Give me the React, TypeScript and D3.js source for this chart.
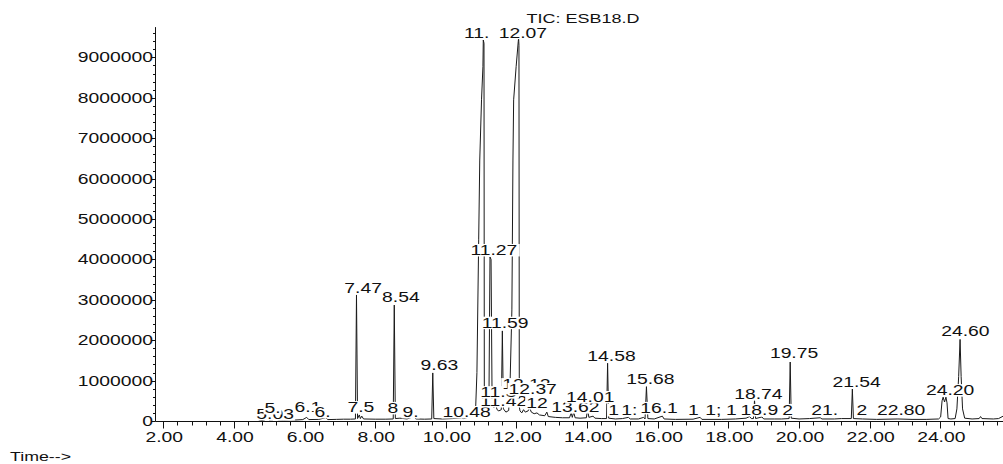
import React from "react";
import * as d3 from "d3";

// Total ion chromatogram trace: [retention time (min), abundance]
const tracePoints: [number, number][] = [
  [4.70, 0], [4.85, 20000], [4.95, 60000], [5.00, 25000], [5.10, 30000], [5.18, 90000],
  [5.24, 30000], [5.40, 25000], [5.60, 30000], [5.75, 25000], [5.95, 35000], [6.06, 90000],
  [6.12, 35000], [6.40, 40000], [6.60, 80000], [6.66, 35000], [6.90, 40000], [7.10, 45000],
  [7.30, 45000], [7.44, 50000], [7.47, 3120000], [7.50, 60000], [7.55, 150000], [7.58, 60000],
  [7.62, 120000], [7.67, 50000], [8.00, 45000], [8.30, 45000], [8.51, 50000], [8.54, 2870000],
  [8.57, 60000], [8.70, 70000], [8.90, 50000], [9.10, 110000], [9.15, 50000], [9.40, 45000],
  [9.60, 50000], [9.63, 1190000], [9.66, 60000], [9.90, 50000], [10.20, 60000], [10.45, 80000],
  [10.50, 60000], [10.70, 110000], [10.84, 220000], [10.88, 1200000], [10.93, 4500000],
  [10.96, 6460000], [11.01, 7950000], [11.05, 8770000], [11.06, 9430000], [11.08, 9350000],
  [11.09, 400000], [11.15, 330000], [11.22, 450000], [11.25, 4060000], [11.28, 4000000],
  [11.31, 420000], [11.36, 330000], [11.41, 420000], [11.45, 280000], [11.50, 250000],
  [11.57, 280000], [11.60, 2230000], [11.63, 300000], [11.70, 220000], [11.78, 260000],
  [11.82, 1000000], [11.87, 2750000], [11.90, 6460000], [11.92, 7950000], [11.99, 8770000],
  [12.05, 9390000], [12.06, 9480000], [12.07, 9300000], [12.08, 350000], [12.10, 250000],
  [12.15, 200000], [12.20, 280000], [12.25, 220000], [12.33, 250000], [12.37, 330000],
  [12.42, 220000], [12.50, 180000], [12.58, 200000], [12.65, 150000], [12.80, 130000],
  [12.86, 220000], [12.90, 110000], [13.10, 90000], [13.30, 80000], [13.50, 80000],
  [13.55, 200000], [13.58, 90000], [13.62, 220000], [13.66, 80000], [13.80, 70000],
  [13.98, 80000], [14.01, 300000], [14.05, 90000], [14.17, 120000], [14.22, 70000],
  [14.40, 60000], [14.55, 60000], [14.58, 1430000], [14.61, 70000], [14.80, 50000],
  [15.00, 60000], [15.17, 90000], [15.22, 50000], [15.45, 50000], [15.60, 90000],
  [15.64, 50000], [15.68, 850000], [15.72, 60000], [15.90, 50000], [16.13, 120000],
  [16.18, 50000], [16.50, 40000], [17.00, 45000], [17.20, 90000], [17.25, 40000],
  [17.80, 40000], [18.20, 50000], [18.50, 70000], [18.60, 110000], [18.65, 60000],
  [18.71, 60000], [18.74, 520000], [18.77, 60000], [18.95, 100000], [19.00, 50000],
  [19.30, 50000], [19.50, 50000], [19.72, 60000], [19.75, 1460000], [19.78, 70000],
  [20.00, 50000], [20.30, 60000], [20.60, 80000], [20.65, 50000], [21.00, 50000],
  [21.20, 60000], [21.48, 60000], [21.51, 790000], [21.54, 60000], [21.80, 50000],
  [22.20, 40000], [22.80, 50000], [23.20, 40000], [23.60, 40000], [23.95, 50000],
  [24.01, 100000], [24.05, 500000], [24.08, 590000], [24.12, 470000], [24.16, 590000],
  [24.19, 450000], [24.22, 60000], [24.30, 50000], [24.42, 60000], [24.47, 300000],
  [24.52, 1100000], [24.56, 2020000], [24.59, 1100000], [24.63, 300000], [24.69, 70000],
  [24.90, 50000], [25.10, 60000], [25.14, 110000], [25.18, 60000], [25.50, 50000],
  [25.65, 60000], [25.78, 120000],
];

// Peak labels (visible text), anchor retention time, and label baseline level
const labelTexts = [
  "5.03", "5.", "6.1", "6.", "7.5", "8", "9.", "10.48", "11.42", "11.3", "12.12", "12.37",
  "12", "13.62", "14.01", "1", "1:", "16.1", "1", "1;", "1", "18.9", "2", "21.", "2", "22.80",
  "7.47", "8.54", "9.63", "11.27", "11.59", "14.58", "15.68", "18.74", "19.75", "21.54",
  "24.20", "24.60", "11.", "12.07",
];
const labelTimes = [
  4.98, 5.21, 6.06, 6.63, 7.56, 8.69, 9.12, 10.48, 11.55, 11.55, 12.17, 12.35,
  12.85, 13.56, 13.98, 15.17, 15.54, 16.08, 17.43, 17.92, 18.51, 18.92, 20.10, 20.92, 22.2, 22.78,
  7.47, 8.54, 9.63, 11.27, 11.59, 14.58, 15.68, 18.74, 19.75, 21.52,
  24.17, 24.6, 11.09, 12.07,
];
const labelLevels = [
  50000, 198000, 220000, 100000, 220000, 200000, 100000, 100000, 370000, 590000, 790000, 670000,
  320000, 220000, 470000, 150000, 150000, 200000, 150000, 150000, 150000, 150000, 150000, 150000, 150000, 150000,
  3170000, 2950000, 1260000, 4110000, 2310000, 1490000, 920000, 540000, 1560000, 840000,
  640000, 2100000, 9490000, 9490000,
];

const yTickValues = d3.range(0, 49).map((i) => i * 200000);
const xTickValues = d3.range(0, 60).map((i) => 2 + i * 0.4);
const title = "TIC: ESB18.D";
const xAxisTitle = "Time-->";

const W = 1003;
const H = 464;
const FONT = "'Liberation Sans', Arial, Helvetica, sans-serif";
const FS = 14;
const SX = 1.38;

const adv: Record<string, number> = { ".": 0.278, ":": 0.278, ";": 0.278, " ": 0.278 };
function textWidth(s: string, fs: number, sx: number) {
  let w = 0;
  for (const c of s) w += adv[c] ?? 0.556;
  return w * fs * sx;
}

export default function App() {
  const x = d3.scaleLinear().domain([2, 24]).range([163.3, 940.3]);
  const y = d3.scaleLinear().domain([0, 9000000]).range([421, 57.4]);
  const line = d3
    .line<[number, number]>()
    .x((d) => x(d[0]))
    .y((d) => y(d[1]));

  const axisY = y(0) + 0.5;
  const axisX = 155.5;

  return (
    <svg
      width={W}
      height={H}
      style={{ position: "absolute", left: 0, top: 0, background: "#fff" }}
      fontFamily={FONT}
    >
      <rect x={0} y={0} width={W} height={H} fill="#fff" />
      {/* trace */}
      <path d={line(tracePoints) || ""} fill="none" stroke="#1a1a1a" strokeWidth={1} />

      {/* peak labels with white boxes */}
      {labelTexts.map((t, i) => {
        const tm = labelTimes[i];
        const start = x(tm) - (tm >= 10 ? 20.3 : 12.2);
        const base = y(labelLevels[i]);
        const w = textWidth(t, FS, SX);
        return (
          <g key={"lab" + i}>
            <rect x={start - 1} y={base - 11} width={w + 2} height={12.5} fill="#fff" />
            <text
              transform={`translate(${start},${base}) scale(${SX},1)`}
              fontSize={FS}
              fill="#111"
            >
              {t}
            </text>
          </g>
        );
      })}

      {/* y axis */}
      <line x1={axisX} x2={axisX} y1={y(9750000)} y2={axisY} stroke="#111" strokeWidth={1} />
      {yTickValues.map((v, i) => {
        const major = i % 5 === 0;
        const yy = Math.round(y(v)) + 0.5;
        return (
          <line
            key={"yt" + i}
            x1={axisX - (major ? 4 : 2.5)}
            x2={axisX}
            y1={yy}
            y2={yy}
            stroke="#111"
            strokeWidth={1}
          />
        );
      })}
      {yTickValues
        .filter((_, i) => i % 5 === 0)
        .map((v, i) => (
          <text
            key={"yl" + i}
            transform={`translate(153,${y(v) + 5}) scale(${SX},1)`}
            textAnchor="end"
            fontSize={FS}
            fill="#111"
          >
            {String(v)}
          </text>
        ))}

      {/* x axis */}
      <line x1={axisX} x2={W} y1={axisY} y2={axisY} stroke="#111" strokeWidth={1} />
      {xTickValues.map((t, i) => {
        const major = i % 5 === 0;
        const xx = Math.round(x(t)) + 0.5;
        return (
          <line
            key={"xt" + i}
            x1={xx}
            x2={xx}
            y1={axisY}
            y2={axisY + (major ? 7 : 4)}
            stroke="#111"
            strokeWidth={1}
          />
        );
      })}
      {xTickValues
        .filter((_, i) => i % 5 === 0)
        .map((t, i) => (
          <text
            key={"xl" + i}
            transform={`translate(${x(t) + 1},442) scale(${SX},1)`}
            textAnchor="middle"
            fontSize={FS}
            fill="#111"
          >
            {t.toFixed(2)}
          </text>
        ))}

      {/* title */}
      <text transform={`translate(526.5,23) scale(1.5,1)`} fontSize={12} fill="#111">
        {title}
      </text>
      <text x={10} y={461} fontSize={13} textLength={61} lengthAdjust="spacingAndGlyphs" fill="#111">
        {xAxisTitle}
      </text>
    </svg>
  );
}
